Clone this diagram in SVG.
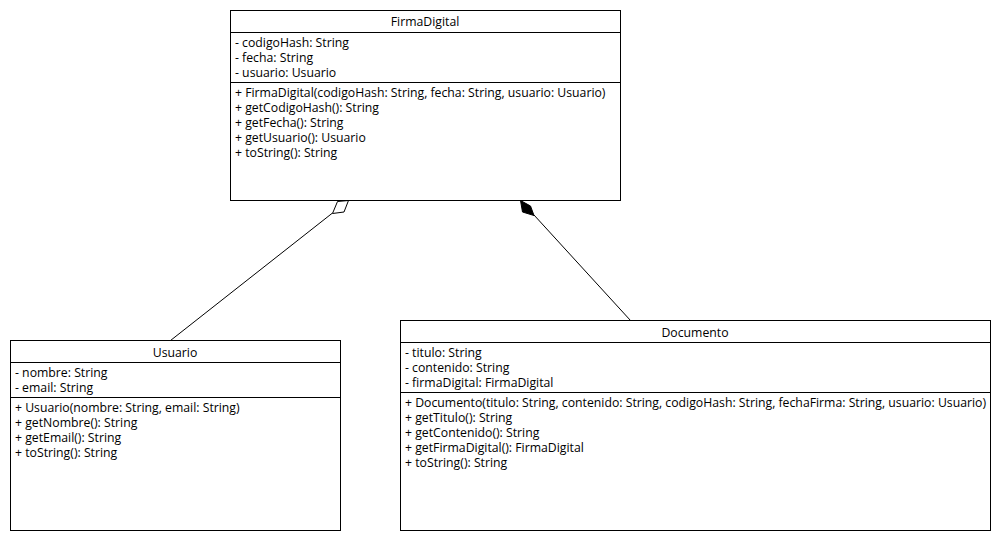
<svg xmlns="http://www.w3.org/2000/svg" width="1000" height="540" viewBox="0 0 1000 540">
  <style>
    .box { fill: #ffffff; stroke: #000000; stroke-width: 1; }
    .sep { stroke: #000000; stroke-width: 1; }
    .title { font-family: "Open Sans", "Noto Sans", sans-serif; font-size: 12.25px; fill: #000; text-anchor: middle; }
    .member { font-family: "Open Sans", "Noto Sans", sans-serif; font-size: 12.25px; fill: #000; }
    .edge { stroke: #000000; stroke-width: 1; fill: none; }
  </style>
  <rect width="1000" height="540" fill="#ffffff"/>

  <g id="connectors">
    <!-- aggregation: Usuario -> FirmaDigital -->
    <path class="edge" d="M170.5 340.5 L332.5 213"/>
    <path d="M348.5 200.5 L344 212 L332.5 213.5 L337.5 201.5 Z" fill="#ffffff" stroke="#000" stroke-width="1"/>
    <!-- composition: Documento -> FirmaDigital -->
    <path class="edge" d="M630.5 320.5 L534 215"/>
    <path d="M520.5 200.5 L530.5 206 L534 215.5 L522.5 212 Z" fill="#000" stroke="#000" stroke-width="1"/>
  </g>

  <g id="FirmaDigital">
    <rect class="box" x="230.5" y="10.5" width="390" height="190"/>
    <line class="sep" x1="230.5" y1="32.5" x2="620.5" y2="32.5"/>
    <line class="sep" x1="230.5" y1="82.5" x2="620.5" y2="82.5"/>
    <text class="title" x="425" y="26">FirmaDigital</text>
    <text class="member" x="235" y="47">- codigoHash: String</text>
    <text class="member" x="235" y="62">- fecha: String</text>
    <text class="member" x="235" y="77">- usuario: Usuario</text>
    <text class="member" x="235" y="97">+ FirmaDigital(codigoHash: String, fecha: String, usuario: Usuario)</text>
    <text class="member" x="235" y="112">+ getCodigoHash(): String</text>
    <text class="member" x="235" y="127">+ getFecha(): String</text>
    <text class="member" x="235" y="142">+ getUsuario(): Usuario</text>
    <text class="member" x="235" y="157">+ toString(): String</text>
  </g>

  <g id="Usuario">
    <rect class="box" x="10.5" y="340.5" width="330" height="190"/>
    <line class="sep" x1="10.5" y1="362.5" x2="340.5" y2="362.5"/>
    <line class="sep" x1="10.5" y1="397.5" x2="340.5" y2="397.5"/>
    <text class="title" x="175" y="357">Usuario</text>
    <text class="member" x="15" y="377">- nombre: String</text>
    <text class="member" x="15" y="392">- email: String</text>
    <text class="member" x="15" y="412">+ Usuario(nombre: String, email: String)</text>
    <text class="member" x="15" y="427">+ getNombre(): String</text>
    <text class="member" x="15" y="442">+ getEmail(): String</text>
    <text class="member" x="15" y="457">+ toString(): String</text>
  </g>

  <g id="Documento">
    <rect class="box" x="400.5" y="320.5" width="590" height="210"/>
    <line class="sep" x1="400.5" y1="342.5" x2="990.5" y2="342.5"/>
    <line class="sep" x1="400.5" y1="392.5" x2="990.5" y2="392.5"/>
    <text class="title" x="695" y="337">Documento</text>
    <text class="member" x="405" y="357">- titulo: String</text>
    <text class="member" x="405" y="372">- contenido: String</text>
    <text class="member" x="405" y="387">- firmaDigital: FirmaDigital</text>
    <text class="member" x="405" y="407">+ Documento(titulo: String, contenido: String, codigoHash: String, fechaFirma: String, usuario: Usuario)</text>
    <text class="member" x="405" y="422">+ getTitulo(): String</text>
    <text class="member" x="405" y="437">+ getContenido(): String</text>
    <text class="member" x="405" y="452">+ getFirmaDigital(): FirmaDigital</text>
    <text class="member" x="405" y="467">+ toString(): String</text>
  </g>
</svg>
